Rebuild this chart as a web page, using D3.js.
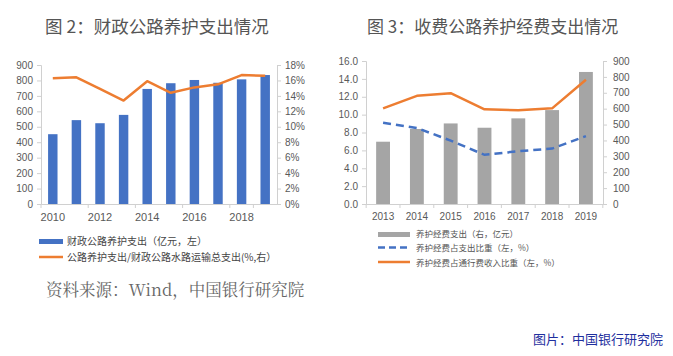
<!DOCTYPE html>
<html><head><meta charset="utf-8">
<script src="https://cdn.jsdelivr.net/npm/d3@7"></script>
<style>
body{margin:0;background:#fff;}
svg{display:block;font-family:"Noto Sans CJK SC","Noto Sans",sans-serif;}
</style></head>
<body><svg id="c" width="673" height="356"></svg>
<script>
// Chart 2 data
const years2 = ["2010","2011","2012","2013","2014","2015","2016","2017","2018","2019"];
const yearLabels2 = ["2010","2012","2014","2016","2018"];
const spend2 = [452, 543, 523, 577, 745, 782, 803, 785, 807, 835];
const share2 = [16.3, 16.4, 14.9, 13.4, 15.9, 14.4, 15.1, 15.5, 16.7, 16.6];
const leftTicks2 = [0,100,200,300,400,500,600,700,800,900];
const rightTicks2 = [0,2,4,6,8,10,12,14,16,18];
// Chart 3 data
const years3 = ["2013","2014","2015","2016","2017","2018","2019"];
const spend3 = [392, 472, 507, 480, 539, 591, 831];
const shareExp3 = [9.1, 8.5, 7.1, 5.5, 5.9, 6.2, 7.6];
const shareToll3 = [10.7, 12.1, 12.4, 10.6, 10.5, 10.7, 13.9];
const leftTicks3 = [0,2,4,6,8,10,12,14,16];
const rightTicks3 = [0,100,200,300,400,500,600,700,800,900];

const svg = d3.select("#c");
const axisCol = "#d0d0d0", txtCol = "#595959";

function styleAxis(g){
  g.select(".domain").attr("stroke", axisCol);
  g.selectAll(".tick line").attr("stroke", axisCol);
  g.selectAll(".tick text").attr("fill", txtCol).attr("font-size", 10).attr("font-family","Liberation Sans, Arial, sans-serif");
}
function boundaryTicks(g, x, domain, yb){
  const step = x.step();
  const b = domain.map(d => x(d) - (step - x.bandwidth())/2).concat([x(domain[domain.length-1]) + x.bandwidth() + (step - x.bandwidth())/2]);
  g.selectAll("line.bt").data(b).join("line").attr("class","bt")
    .attr("x1", d=>d).attr("x2", d=>d).attr("y1", yb).attr("y2", yb+4).attr("stroke", axisCol);
}

// ---------- Chart 2 ----------
{
  const x0 = 41, x1 = 277, yb = 204, yt = 65;
  const x = d3.scaleBand().domain(years2).range([x0, x1]).paddingInner(0.6).paddingOuter(0.3);
  const yL = d3.scaleLinear().domain([0, 900]).range([yb, yt]);
  const yR = d3.scaleLinear().domain([0, 18]).range([yb, yt]);
  const g = svg.append("g");
  g.selectAll("rect.bar").data(spend2).join("rect")
    .attr("x", (d,i)=>x(years2[i])).attr("width", x.bandwidth())
    .attr("y", d=>yL(d)).attr("height", d=>yb - yL(d)).attr("fill", "#4472c4");
  const gl = g.append("g").attr("transform",`translate(${x0},0)`)
    .call(d3.axisLeft(yL).tickValues(leftTicks2).tickSize(4).tickPadding(4).tickFormat(d3.format("d")));
  styleAxis(gl);
  const gr = g.append("g").attr("transform",`translate(${x1},0)`)
    .call(d3.axisRight(yR).tickValues(rightTicks2).tickSize(4).tickPadding(4).tickFormat(d=>d+"%"));
  styleAxis(gr);
  const gb = g.append("g").attr("transform",`translate(0,${yb})`)
    .call(d3.axisBottom(x).tickValues(yearLabels2).tickSize(0).tickPadding(9));
  styleAxis(gb);
  gb.selectAll(".tick text").attr("font-size", 11);
  boundaryTicks(g.append("g"), x, years2.filter((d,i)=>i%2==0), yb);
  const line = d3.line().x((d,i)=>x(years2[i]) + x.bandwidth()/2).y(d=>yR(d));
  g.append("path").datum(share2).attr("d", line).attr("fill","none")
    .attr("stroke","#ed7d31").attr("stroke-width",2.5).attr("stroke-linejoin","round");
  svg.append("text").attr("x", 45).attr("y", 33).attr("font-size", 17.5).attr("fill","#555")
    .text("图 2：财政公路养护支出情况");
  // legend
  svg.append("rect").attr("x",39).attr("y",239).attr("width",24).attr("height",5).attr("fill","#4472c4");
  svg.append("text").attr("x",67).attr("y",245).attr("font-size",10).attr("fill","#444")
    .text("财政公路养护支出（亿元，左）");
  svg.append("line").attr("x1",39).attr("x2",63).attr("y1",257).attr("y2",257).attr("stroke","#ed7d31").attr("stroke-width",2.5);
  svg.append("text").attr("x",67).attr("y",260.5).attr("font-size",10).attr("fill","#444")
    .text("公路养护支出/财政公路水路运输总支出(%,右）");
  svg.append("text").attr("x",46).attr("y",296).attr("font-size",16.5).attr("fill","#666")
    .attr("font-family","Noto Serif CJK SC, Noto Sans CJK SC, serif")
    .text("资料来源：Wind，中国银行研究院");
}

// ---------- Chart 3 ----------
{
  const x0 = 366, x1 = 603, yb = 204, yt = 61;
  const x = d3.scaleBand().domain(years3).range([x0, x1]).paddingInner(0.59).paddingOuter(0.3);
  const yL = d3.scaleLinear().domain([0, 16]).range([yb, yt]);
  const yR = d3.scaleLinear().domain([0, 900]).range([yb, yt]);
  const g = svg.append("g");
  g.selectAll("rect.bar").data(spend3).join("rect")
    .attr("x", (d,i)=>x(years3[i])).attr("width", x.bandwidth())
    .attr("y", d=>yR(d)).attr("height", d=>yb - yR(d)).attr("fill", "#a5a5a5");
  const gl = g.append("g").attr("transform",`translate(${x0},0)`)
    .call(d3.axisLeft(yL).tickValues(leftTicks3).tickSize(4).tickPadding(4).tickFormat(d3.format(".1f")));
  styleAxis(gl);
  const gr = g.append("g").attr("transform",`translate(${x1},0)`)
    .call(d3.axisRight(yR).tickValues(rightTicks3).tickSize(4).tickPadding(6).tickFormat(d3.format("d")));
  styleAxis(gr);
  const gb = g.append("g").attr("transform",`translate(0,${yb})`)
    .call(d3.axisBottom(x).tickSize(0).tickPadding(9));
  styleAxis(gb);
  boundaryTicks(g.append("g"), x, years3, yb);
  const line = d3.line().x((d,i)=>x(years3[i]) + x.bandwidth()/2).y(d=>yL(d));
  g.append("path").datum(shareToll3).attr("d", line).attr("fill","none")
    .attr("stroke","#ed7d31").attr("stroke-width",2.5).attr("stroke-linejoin","round");
  g.append("path").datum(shareExp3).attr("d", line).attr("fill","none")
    .attr("stroke","#4472c4").attr("stroke-width",2.5).attr("stroke-dasharray","8,5");
  svg.append("text").attr("x", 367).attr("y", 33).attr("font-size", 17).attr("fill","#555")
    .text("图 3：收费公路养护经费支出情况");
  const lx = 378, tx = 416;
  svg.append("rect").attr("x",lx).attr("y",232).attr("width",32).attr("height",5).attr("fill","#a5a5a5");
  svg.append("text").attr("x",tx).attr("y",237).attr("font-size",8.5).attr("fill","#555").text("养护经费支出（右，亿元）");
  svg.append("line").attr("x1",lx).attr("x2",lx+32).attr("y1",247.5).attr("y2",247.5).attr("stroke","#4472c4").attr("stroke-width",2.5).attr("stroke-dasharray","7,4");
  svg.append("text").attr("x",tx).attr("y",251).attr("font-size",8.5).attr("fill","#555").text("养护经费占支出比重（左，%）");
  svg.append("line").attr("x1",lx).attr("x2",lx+32).attr("y1",262).attr("y2",262).attr("stroke","#ed7d31").attr("stroke-width",2.5);
  svg.append("text").attr("x",tx).attr("y",265.5).attr("font-size",8.5).attr("fill","#555").text("养护经费占通行费收入比重（左，%）");
}

svg.append("text").attr("x",533).attr("y",344).attr("font-size",13).attr("fill","#1f2f9e")
  .text("图片：中国银行研究院");
</script></body></html>
